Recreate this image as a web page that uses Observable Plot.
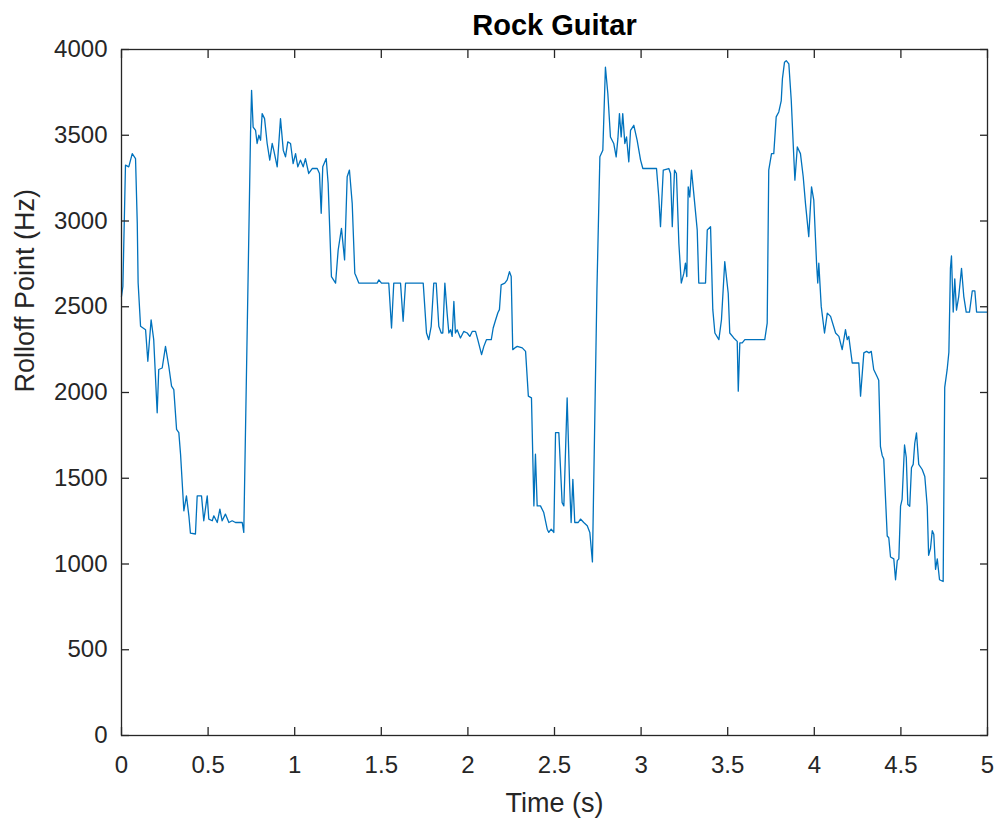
<!DOCTYPE html>
<html>
<head>
<meta charset="utf-8">
<script src="https://cdn.jsdelivr.net/npm/d3@7"></script>
<script src="https://cdn.jsdelivr.net/npm/@observablehq/plot@0.6"></script>
<style>
  html, body { margin: 0; padding: 0; background: #fff; }
  #chart svg { display: block; }
</style>
</head>
<body>
<div id="chart"></div>
<script>
const titleText = "Rock Guitar";
const xLabel = "Time (s)";
const yLabel = "Rolloff Point (Hz)";
const xTicks = [0, 0.5, 1, 1.5, 2, 2.5, 3, 3.5, 4, 4.5, 5];
const yTicks = [0, 500, 1000, 1500, 2000, 2500, 3000, 3500, 4000];

const time = [
  0, 0.008, 0.023, 0.042, 0.062, 0.081, 0.091, 0.096, 0.110, 0.139, 0.152, 0.171, 0.186, 0.206, 0.215, 0.235, 0.254, 0.273, 0.289, 0.302,
  0.318, 0.331, 0.341, 0.360, 0.375, 0.389, 0.398, 0.427, 0.437, 0.462, 0.475, 0.495, 0.504, 0.524, 0.533, 0.553, 0.568, 0.581, 0.600, 0.620,
  0.639, 0.658, 0.697, 0.706, 0.745, 0.751, 0.760, 0.774, 0.783, 0.793, 0.803, 0.812, 0.826, 0.841, 0.856, 0.870, 0.879, 0.899, 0.918, 0.934,
  0.947, 0.960, 0.976, 0.991, 1.005, 1.018, 1.033, 1.049, 1.062, 1.081, 1.101, 1.130, 1.143, 1.153, 1.162, 1.182, 1.193, 1.212, 1.236, 1.251,
  1.270, 1.288, 1.303, 1.316, 1.332, 1.347, 1.355, 1.370, 1.476, 1.486, 1.501, 1.543, 1.559, 1.572, 1.611, 1.626, 1.640, 1.742, 1.761, 1.774,
  1.788, 1.803, 1.817, 1.832, 1.846, 1.855, 1.867, 1.880, 1.890, 1.900, 1.909, 1.919, 1.928, 1.938, 1.957, 1.976, 1.996, 2.011, 2.025, 2.044,
  2.057, 2.079, 2.092, 2.107, 2.135, 2.146, 2.159, 2.173, 2.182, 2.192, 2.213, 2.227, 2.240, 2.250, 2.259, 2.271, 2.285, 2.314, 2.333, 2.349,
  2.367, 2.381, 2.390, 2.400, 2.419, 2.438, 2.458, 2.467, 2.481, 2.496, 2.506, 2.525, 2.544, 2.554, 2.573, 2.587, 2.596, 2.606, 2.617, 2.637,
  2.650, 2.669, 2.689, 2.704, 2.719, 2.745, 2.762, 2.779, 2.794, 2.808, 2.823, 2.842, 2.856, 2.866, 2.875, 2.885, 2.894, 2.906, 2.916, 2.929,
  2.939, 2.958, 2.977, 2.997, 3.010, 3.089, 3.102, 3.112, 3.128, 3.160, 3.170, 3.180, 3.193, 3.204, 3.218, 3.232, 3.247, 3.256, 3.264, 3.272,
  3.281, 3.291, 3.304, 3.324, 3.333, 3.372, 3.382, 3.401, 3.414, 3.426, 3.449, 3.464, 3.483, 3.503, 3.512, 3.535, 3.555, 3.561, 3.570, 3.584,
  3.599, 3.714, 3.728, 3.737, 3.753, 3.766, 3.780, 3.795, 3.809, 3.816, 3.828, 3.838, 3.853, 3.867, 3.879, 3.888, 3.902, 3.920, 3.936, 3.949,
  3.968, 3.984, 3.997, 4.013, 4.020, 4.026, 4.040, 4.059, 4.075, 4.094, 4.123, 4.142, 4.161, 4.180, 4.190, 4.199, 4.219, 4.257, 4.267, 4.286,
  4.302, 4.316, 4.329, 4.343, 4.363, 4.372, 4.382, 4.392, 4.401, 4.421, 4.430, 4.440, 4.459, 4.469, 4.479, 4.488, 4.498, 4.507, 4.521, 4.531,
  4.540, 4.551, 4.561, 4.571, 4.580, 4.590, 4.603, 4.623, 4.638, 4.652, 4.660, 4.671, 4.681, 4.690, 4.700, 4.710, 4.723, 4.744, 4.753, 4.767,
  4.777, 4.786, 4.792, 4.802, 4.811, 4.821, 4.834, 4.850, 4.863, 4.877, 4.896, 4.912, 4.927, 4.937, 5.000
];

const rolloff = [
  2560, 2618, 3326, 3316, 3393, 3364, 2988, 2640, 2386, 2366, 2182, 2424, 2308, 1882, 2134, 2143, 2269, 2153, 2037, 2017,
  1785, 1766, 1640, 1310, 1397, 1281, 1180, 1175, 1397, 1397, 1252, 1397, 1262, 1252, 1281, 1242, 1320, 1252, 1291, 1242,
  1252, 1242, 1242, 1184, 3510, 3762, 3548, 3529, 3452, 3500, 3471, 3626, 3597, 3452, 3355, 3452, 3413, 3316, 3597, 3413,
  3374, 3461, 3452, 3335, 3393, 3316, 3355, 3316, 3364, 3277, 3306, 3306, 3277, 3045, 3316, 3364, 3219, 2676, 2638, 2831,
  2957, 2773, 3258, 3297, 3103, 2696, 2676, 2638, 2638, 2657, 2638, 2638, 2376, 2638, 2638, 2415, 2638, 2638, 2347, 2308,
  2386, 2638, 2638, 2386, 2347, 2347, 2638, 2463, 2347, 2366, 2327, 2531, 2347, 2366, 2318, 2356, 2347, 2327, 2356, 2356,
  2308, 2221, 2269, 2308, 2308, 2376, 2420, 2465, 2483, 2628, 2638, 2657, 2705, 2676, 2250, 2260, 2269, 2260, 2240, 1979,
  1969, 1339, 1640, 1339, 1339, 1300, 1203, 1184, 1203, 1184, 1766, 1766, 1358, 1339, 1969, 1475, 1242, 1494, 1242, 1242,
  1262, 1242, 1223, 1184, 1012, 2600, 3374, 3413, 3897, 3742, 3490, 3452, 3374, 3480, 3626, 3490, 3626, 3452, 3490, 3345,
  3529, 3558, 3471, 3355, 3306, 3306, 3141, 2967, 3297, 3306, 3277, 2967, 3297, 3277, 2870, 2638, 2696, 2754, 2676, 3199,
  3140, 3297, 3161, 2948, 2638, 2638, 2948, 2967, 2483, 2347, 2308, 2424, 2763, 2579, 2347, 2318, 2298, 2008, 2289, 2289,
  2308, 2308, 2405, 3297, 3393, 3393, 3607, 3636, 3700, 3830, 3926, 3935, 3916, 3703, 3432, 3238, 3432, 3393, 3258, 3103,
  2909, 3199, 3122, 2754, 2638, 2754, 2502, 2347, 2463, 2444, 2347, 2327, 2250, 2366, 2308, 2327, 2172, 2172, 1979, 2231,
  2240, 2231, 2240, 2134, 2092, 2071, 1684, 1633, 1612, 1163, 1153, 1041, 1030, 908, 1020, 1030, 1337, 1377, 1694, 1622,
  1347, 1337, 1561, 1581, 1704, 1765, 1581, 1551, 1510, 1337, 1051, 1092, 1194, 1173, 969, 1030, 908, 898, 2030, 2133,
  2235, 2724, 2796, 2469, 2663, 2480, 2561, 2724, 2561, 2469, 2469, 2592, 2592, 2469, 2469
];

const data = time.map((t, i) => ({t, hz: rolloff[i]}));
const ink = "#262626";
const tk = 8;

const chart = Plot.plot({
  width: 998,
  height: 821,
  marginLeft: 121,
  marginRight: 11,
  marginTop: 49,
  marginBottom: 86,
  style: {background: "#fff", color: ink, fontFamily: "'Liberation Sans', Arial, Helvetica, sans-serif"},
  x: {domain: [0, 5]},
  y: {domain: [0, 4000]},
  marks: [
    Plot.line(data, {x: "t", y: "hz", stroke: "#0072BD", strokeWidth: 1.3}),
    Plot.frame({stroke: ink, strokeWidth: 1.3}),
    Plot.axisX({anchor: "bottom", ticks: xTicks, tickSize: tk, dy: -tk, tickFormat: () => "", label: null, stroke: ink, strokeWidth: 1.3}),
    Plot.axisX({anchor: "top", ticks: xTicks, tickSize: tk, dy: tk, tickFormat: () => "", label: null, stroke: ink, strokeWidth: 1.3}),
    Plot.axisY({anchor: "left", ticks: yTicks, tickSize: tk, dx: tk, tickFormat: () => "", label: null, stroke: ink, strokeWidth: 1.3}),
    Plot.axisY({anchor: "right", ticks: yTicks, tickSize: tk, dx: -tk, tickFormat: () => "", label: null, stroke: ink, strokeWidth: 1.3}),
    Plot.axisX({anchor: "bottom", ticks: xTicks, tickSize: 0, tickPadding: 20, tickFormat: d => String(d), label: null, fontSize: 24, fill: ink}),
    Plot.axisY({anchor: "left", ticks: yTicks, tickSize: 0, tickPadding: 14, tickFormat: d => String(d), label: null, fontSize: 24, fill: ink}),
    Plot.text([titleText], {text: d => d, frameAnchor: "top", lineAnchor: "middle", dy: -24, fontSize: 29, fontWeight: "bold", fill: "#000"}),
    Plot.text([xLabel], {text: d => d, frameAnchor: "bottom", lineAnchor: "middle", dy: 68, fontSize: 27, fill: ink}),
    Plot.text([yLabel], {text: d => d, frameAnchor: "left", lineAnchor: "middle", dx: -96, rotate: -90, fontSize: 27, fill: ink})
  ]
});
document.getElementById("chart").appendChild(chart);
</script>
</body>
</html>
